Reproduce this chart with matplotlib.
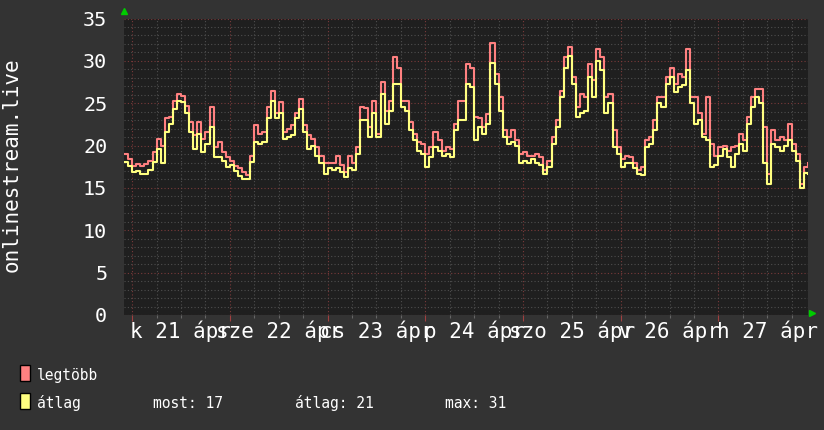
import matplotlib
matplotlib.use('Agg')
import matplotlib.pyplot as plt
from matplotlib.patches import Rectangle
from matplotlib.ticker import FixedLocator, MultipleLocator, NullFormatter
import matplotlib.transforms as mtransforms

# ===================== DATA =====================
# hourly samples, hour 0 = 20 apr 22:00
legtobb = [
    19.0, 18.4, 17.6, 17.8, 17.6, 17.8, 18.2, 19.2, 20.8, 20.0,
    23.2, 23.4, 25.3, 26.1, 25.9, 24.7, 22.8, 21.2, 22.8, 20.8,
    21.6, 24.5, 19.8, 20.4, 19.2, 18.6, 18.2, 17.6, 17.3, 16.9,
    16.5, 18.8, 22.4, 21.4, 21.6, 24.5, 26.5, 23.9, 25.1, 21.6,
    22.0, 22.4, 23.9, 25.5, 22.4, 21.2, 20.8, 19.8, 18.8, 17.9,
    17.9, 17.9, 18.8, 17.7, 16.9, 18.8, 17.9, 19.8, 24.6, 24.4,
    22.2, 25.3, 21.4, 27.5, 24.1, 25.3, 30.4, 29.2, 25.3, 25.3,
    22.8, 21.4, 20.4, 20.2, 19.0, 19.8, 21.6, 20.6, 19.4, 19.8,
    19.6, 22.6, 25.3, 25.3, 29.6, 29.2, 23.4, 23.2, 22.2, 23.7,
    32.1, 28.5, 25.7, 21.8, 21.0, 21.8, 20.6, 19.0, 19.2, 18.8,
    18.8, 19.0, 18.6, 17.1, 18.2, 21.0, 23.0, 26.5, 30.4, 31.6,
    28.1, 24.5, 26.1, 25.7, 29.6, 27.7, 31.4, 30.4, 25.7, 26.1,
    21.8, 19.8, 18.4, 18.8, 18.6, 17.9, 17.1, 17.5, 20.6, 21.0,
    23.0, 25.7, 25.7, 28.1, 29.2, 27.3, 28.5, 28.1, 31.4, 25.7,
    25.7, 23.8, 21.4, 25.7, 20.2, 18.8, 19.8, 20.0, 19.4, 19.8,
    20.0, 21.4, 20.6, 23.4, 25.7, 26.7, 26.7, 22.2, 16.7, 21.8,
    20.6, 21.0, 20.6, 22.6, 20.2, 19.0, 15.5, 17.5, 17.9,
]
atlag = [
    18.1, 17.6, 16.9, 17.0, 16.6, 16.6, 17.1, 18.1, 19.6, 17.9,
    21.6, 22.6, 24.3, 25.3, 25.1, 23.9, 21.6, 19.6, 21.4, 19.2,
    20.2, 22.2, 18.6, 18.6, 18.2, 17.5, 17.7, 17.0, 16.4, 16.1,
    16.0, 18.1, 20.4, 20.2, 20.4, 23.2, 25.3, 23.2, 23.9, 20.8,
    21.0, 21.2, 23.2, 24.3, 21.6, 19.6, 20.0, 18.8, 17.9, 16.7,
    17.3, 17.1, 17.3, 16.9, 16.3, 17.3, 17.1, 19.0, 23.0, 23.0,
    21.0, 23.9, 21.0, 26.1, 22.6, 24.1, 27.3, 27.3, 24.6, 24.1,
    21.8, 20.6, 19.4, 19.0, 17.5, 18.6, 19.8, 19.4, 18.8, 19.0,
    18.6, 21.8, 23.0, 23.0, 27.3, 26.9, 20.6, 22.2, 21.4, 22.6,
    29.8, 27.3, 24.1, 21.0, 20.2, 20.4, 20.0, 18.0, 18.2, 18.0,
    18.4, 17.9, 17.7, 16.7, 17.5, 20.2, 22.2, 25.7, 29.2, 30.6,
    27.3, 23.4, 23.8, 24.1, 28.1, 25.7, 30.0, 28.9, 23.8, 25.0,
    19.8, 19.0, 17.5, 17.9, 18.0, 17.3, 16.7, 16.5, 19.8, 20.2,
    21.8, 25.0, 24.5, 27.3, 28.1, 26.3, 26.9, 27.1, 28.9, 25.0,
    22.6, 23.0, 21.0, 20.6, 17.5, 17.7, 18.8, 19.6, 18.6, 17.5,
    19.0, 20.2, 19.4, 22.6, 24.5, 25.7, 25.0, 17.9, 15.5, 20.2,
    19.8, 19.4, 20.0, 20.6, 19.4, 18.2, 15.0, 16.8, 16.7,
]
hours = list(range(len(legtobb)))

day_labels = ['k 21 ápr', 'sze 22 ápr', 'cs 23 ápr', 'p 24 ápr',
              'szo 25 ápr', 'v 26 ápr', 'h 27 ápr']
midnights = [2, 26, 50, 74, 98, 122, 146]
noons = [14, 38, 62, 86, 110, 134, 158]
y_ticks = [0, 5, 10, 15, 20, 25, 30, 35]

legend_names = ['legtöbb', 'átlag']
stats = ['most: 17', 'átlag: 21', 'max: 31']

# ===================== STYLE =====================
BACK = '#333333'
CANVAS = '#1f1f1f'
RED = '#ff8080'
YELLOW = '#ffff80'
MONO = 'DejaVu Sans Mono'
W, H = 824, 430

fig = plt.figure(figsize=(W / 100, H / 100), dpi=100, facecolor=BACK)
ax = fig.add_axes([124 / W, (H - 315) / H, 684 / W, (315 - 18.5) / H])
ax.set_facecolor(CANVAS)

ax.plot(hours, legtobb, drawstyle='steps-post', color=RED, lw=1.5, zorder=3)
ax.plot(hours, atlag, drawstyle='steps-post', color=YELLOW, lw=1.5, zorder=4)

ax.set_xlim(0, 168)
ax.set_ylim(0, 35)

# grid
ax.xaxis.set_major_locator(FixedLocator(midnights))
ax.xaxis.set_minor_locator(MultipleLocator(6, offset=2))
ax.yaxis.set_major_locator(FixedLocator(y_ticks))
ax.yaxis.set_minor_locator(MultipleLocator(1))
ax.grid(which='minor', color='#4e4e4e', ls=(0, (1, 2)), lw=0.8, zorder=1)
ax.grid(which='major', color='#7a3a3a', ls=(0, (1, 2)), lw=0.8, zorder=2)

ax.xaxis.set_major_formatter(NullFormatter())
ax.tick_params(axis='x', which='major', colors='#a04040', length=4, width=0.8, direction='out')
ax.tick_params(axis='x', which='minor', colors='#666666', length=2, width=0.8, direction='out')
ax.tick_params(axis='y', which='both', length=0, pad=12, labelcolor='white',
               labelsize=14.5)
for lab in ax.get_yticklabels():
    lab.set_family(MONO)
for s in ax.spines.values():
    s.set_visible(False)

# day labels centred on noon (they overlap like the original)
trans = mtransforms.blended_transform_factory(ax.transData, ax.transAxes)
for h, lab in zip(noons, day_labels):
    ax.text(h, -16 / 296.5, lab, transform=trans, ha='center', va='center',
            color='white', fontsize=15, family=MONO)

# axis arrows
ax.plot([0], [1 + 8 / 296.5], marker='^', ms=5, color='#00cc00',
        transform=ax.transAxes, clip_on=False)
ax.plot([1 + 4 / 684], [2 / 296.5], marker='>', ms=5, color='#00cc00',
        transform=ax.transAxes, clip_on=False)

fig.text(12 / W, 1 - 165 / H, 'onlinestream.live', rotation=90, ha='center',
         va='center', color='white', fontsize=15, family=MONO)

# legend
for k, (name, col) in enumerate(zip(legend_names, [RED, YELLOW])):
    top = 365 + k * 28
    fig.patches.append(Rectangle((20 / W, 1 - (top + 16) / H), 10 / W, 16 / H,
                                 facecolor=col, edgecolor='black', lw=1,
                                 transform=fig.transFigure))
    fig.text(37 / W, 1 - (top + 15) / H, name, color='white', fontsize=10.5,
             family=MONO, va='baseline')
for x, s in zip([153, 295, 445], stats):
    fig.text(x / W, 1 - 408 / H, s, color='white', fontsize=10.5,
             family=MONO, va='baseline')

plt.savefig('out.png', dpi=100, facecolor=BACK)
